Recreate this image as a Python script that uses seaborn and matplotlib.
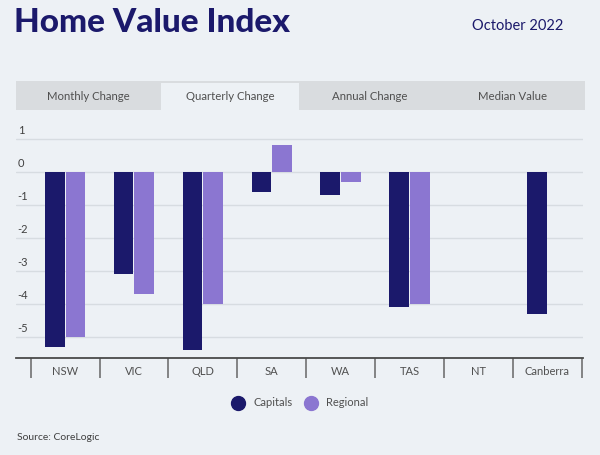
import matplotlib
matplotlib.use("Agg")
import matplotlib.pyplot as plt
from matplotlib.patches import Rectangle
from matplotlib.lines import Line2D
import matplotlib.transforms as mtransforms
import numpy as np
import pandas as pd
import seaborn as sns

# ---- data ----
regions = ["NSW", "VIC", "QLD", "SA", "WA", "TAS", "NT", "Canberra"]
capitals = [-5.32, -3.1, -5.4, -0.59, -0.7, -4.1, np.nan, -4.3]
regional = [-5.0, -3.7, -4.0, 0.82, -0.3, -4.0, np.nan, np.nan]
series_names = ["Capitals", "Regional"]
y_ticks = [1, 0, -1, -2, -3, -4, -5]
tabs = ["Monthly Change", "Quarterly Change", "Annual Change", "Median Value"]
active_tab = "Quarterly Change"

BG = "#edf1f5"
NAVY = "#1b196b"
LAV = "#8b76d1"
TAB = "#d9dcdf"

df = pd.DataFrame({
    "region": regions * 2,
    "series": [series_names[0]] * len(regions) + [series_names[1]] * len(regions),
    "value": capitals + regional,
})

sns.set_theme(style="white")
plt.rcParams["font.family"] = ["Lato", "DejaVu Sans"]

W, H = 600, 455
fig = plt.figure(figsize=(6, 4.55), dpi=100, facecolor=BG)

def fx(px):
    return px / W

def fy(py):
    return 1 - py / H

# title and date
fig.text(fx(14), fy(23), "Home Value Index", fontsize=24, fontweight="black",
         color=NAVY, va="center", ha="left")
fig.text(fx(563), fy(26), "October 2022", fontsize=10.5, color=NAVY,
         va="center", ha="right")

# tab bar
fig.patches.append(Rectangle((fx(16), fy(110)), fx(585) - fx(16), fy(81) - fy(110),
                             transform=fig.transFigure, facecolor=TAB,
                             edgecolor="none", zorder=0))
tab_edges = [16, 161, 299, 441, 585]
for i, t in enumerate(tabs):
    x0, x1 = tab_edges[i], tab_edges[i + 1]
    if t == active_tab:
        fig.patches.append(Rectangle((fx(x0), fy(110)), fx(x1) - fx(x0), fy(83) - fy(110),
                                     transform=fig.transFigure, facecolor=BG,
                                     edgecolor="none", zorder=1))
    fig.text(fx((x0 + x1) / 2), fy(96), t, fontsize=8.2, color="#505050",
             ha="center", va="center", zorder=2)

# axes
ax_top, ax_bot = 131.2, 358
ax = fig.add_axes([fx(16), fy(ax_bot), fx(583) - fx(16), (ax_bot - ax_top) / H])
ax.set_facecolor(BG)

sns.barplot(data=df, x="region", y="value", hue="series", order=regions,
            hue_order=series_names, palette=[NAVY, LAV], width=0.6, gap=0.05,
            saturation=1, linewidth=0, ax=ax, legend=False, zorder=3)

ax.set_xlim(-0.713, 7.52)
ax.set_ylim(-5.64, 1.25)
ax.set_xlabel("")
ax.set_ylabel("")

for s in ["top", "right", "left"]:
    ax.spines[s].set_visible(False)
ax.spines["bottom"].set_color("#4a4a4a")
ax.spines["bottom"].set_linewidth(1.3)
ax.spines["bottom"].set_zorder(5)

ax.set_yticks(y_ticks)
ax.yaxis.grid(True, color="#d7dce1", linewidth=1)
ax.set_axisbelow(True)
ax.tick_params(axis="y", length=0, labelleft=False)

trans = mtransforms.blended_transform_factory(ax.transAxes, ax.transData)
for v in y_ticks:
    ax.text(0.003, v + 0.1, f"{v}", transform=trans, fontsize=8, color="#404040",
            ha="left", va="bottom")

ax.set_xticks(range(len(regions)))
ax.set_xticklabels(regions, fontsize=8, color="#505050")
ax.set_xticks(np.arange(-0.5, len(regions), 1), minor=True)
ax.tick_params(axis="x", which="major", length=0, pad=6)
ax.tick_params(axis="x", which="minor", length=14.5, width=1.1, color="#666666",
               direction="out", bottom=True)

# legend
handles = [Line2D([0], [0], marker="o", linestyle="", markersize=10,
                  markerfacecolor=c, markeredgecolor=c) for c in [NAVY, LAV]]
fig.legend(handles, series_names, loc="center", bbox_to_anchor=(fx(298), fy(403)),
           ncol=2, frameon=False, fontsize=8, handletextpad=0.4, columnspacing=0.6,
           labelcolor="#505050")

fig.text(fx(17), fy(438), "Source: CoreLogic", fontsize=7.5, color="#404040",
         ha="left", va="center")

fig.savefig("out.png", dpi=100, facecolor=BG)
